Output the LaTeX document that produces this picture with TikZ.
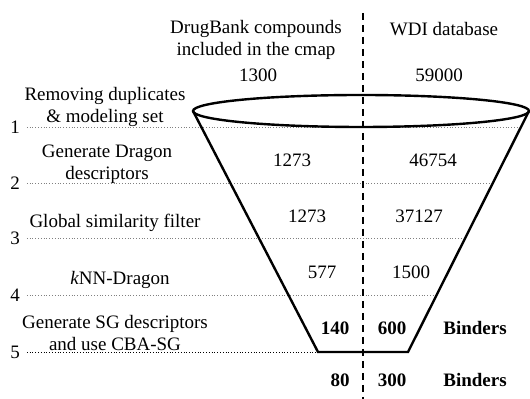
\documentclass[tikz,border=0pt]{standalone}
\usepackage{fontspec}
\setmainfont{Liberation Serif}
\usetikzlibrary{positioning,calc}

\begin{document}
\begin{tikzpicture}[x=0.5pt, y=-0.5pt, font=\fontsize{9.5}{11}\selectfont]
    \tikzstyle{stage} = [align=center, inner sep=1pt]
    \tikzstyle{count} = [inner sep=1pt]
    \tikzstyle{hit} = [inner sep=1pt, font=\fontsize{9.5}{11}\selectfont\bfseries]
    \tikzstyle{level} = [gray, densely dotted, line width=0.4pt]
    \tikzstyle{funnel} = [line width=1.2pt]

    \useasboundingbox (0,0) rectangle (530,399);

    % Nodes
    \node [stage] (drugbank) at (256,40) {DrugBank compounds\\included in the cmap};
    \node [stage] (wdi) at (444,29) {WDI database};
    \node [count] (db0) at (258,75) {1300};
    \node [count] (wdi0) at (439,75) {59000};

    \node [stage] (remove) at (105,107) {Removing duplicates\\\& modeling set};
    \node [stage] (dragon) at (107,164) {Generate Dragon\\descriptors};
    \node [stage] (global) at (115,223) {Global similarity filter};
    \node [stage] (knn) at (120,280) {\textit{k}NN-Dragon};
    \node [stage] (sg) at (115,333) {Generate SG descriptors\\and use CBA-SG};

    \node (n1) at (15,127) {1};
    \node (n2) at (15,183) {2};
    \node (n3) at (15,238) {3};
    \node (n4) at (15,295) {4};
    \node (n5) at (15,352) {5};

    \node [count] (db1) at (292,160) {1273};
    \node [count] (wdi1) at (433,160) {46754};
    \node [count] (db2) at (307,216) {1273};
    \node [count] (wdi2) at (419,216) {37127};
    \node [count] (db3) at (322,272) {577};
    \node [count] (wdi3) at (411,272) {1500};
    \node [hit] (db4) at (335,328) {140};
    \node [hit] (wdi4) at (392,328) {600};
    \node [hit] (bind4) at (475,328) {Binders};
    \node [hit] (db5) at (340,380) {80};
    \node [hit] (wdi5) at (392,380) {300};
    \node [hit] (bind5) at (475,380) {Binders};

    \coordinate (ltop) at (193,111);
    \coordinate (rtop) at (529,111);
    \coordinate (lbot) at (318,352);
    \coordinate (rbot) at (408,352);
    \coordinate (e1) at (521,127);
    \coordinate (e2) at (493,183);
    \coordinate (e3) at (465,238);
    \coordinate (e4) at (437,295);
    \coordinate (divtop) at (363,13);
    \coordinate (divbot) at (363,399);

    % Paths
    \draw [level] (n1.east) -- (e1);
    \draw [level] (n2.east) -- (e2);
    \draw [level] (n3.east) -- (e3);
    \draw [level] (n4.east) -- (e4);
    \draw [level, black] (n5.east) -- (lbot);
    \draw [funnel] (361,111) ellipse [x radius=168, y radius=16];
    \draw [funnel] (ltop) -- (lbot) -- (rbot) -- (rtop);
    \draw [line width=1.2pt, dash pattern=on 3.5pt off 2.5pt] (divtop) -- (divbot);
\end{tikzpicture}
\end{document}
